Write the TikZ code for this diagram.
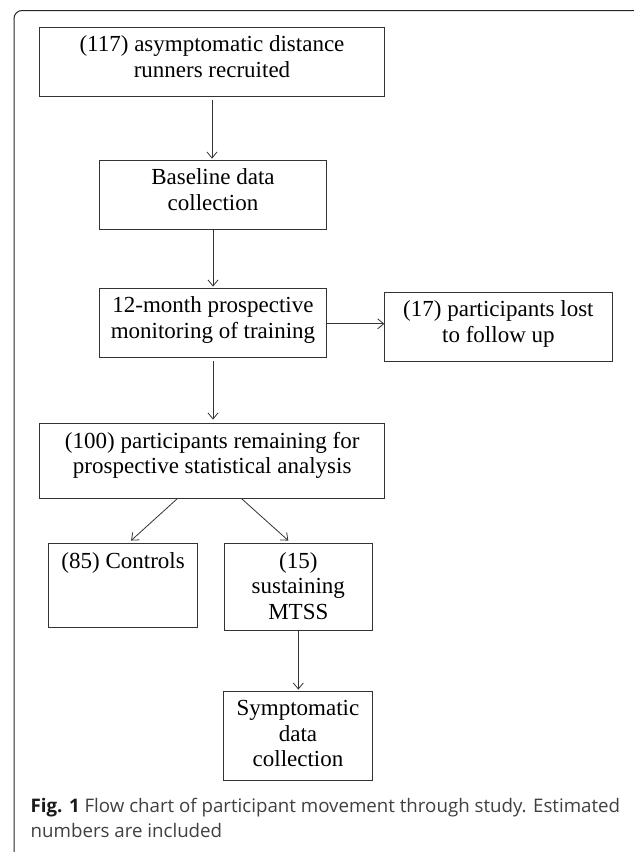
\documentclass[tikz,border=0pt]{standalone}
\usepackage{fontspec}
\setmainfont{Liberation Serif}
\newfontfamily\capfont{Open Sans}
\usetikzlibrary{arrows.meta,positioning}
\tikzstyle{flowbox}=[draw=black!80,line width=0.9pt,inner sep=0pt,shape=rectangle]
\tikzstyle{flowtext}=[inner sep=0pt,align=center,anchor=north,font=\fontsize{23}{25.5}\selectfont]
\tikzstyle{flowarrow}=[draw=black!80,line width=0.8pt,-{Straight Barb[length=6pt,width=10pt]}]

\begin{document}
\begin{tikzpicture}[x=1pt,y=-1pt]
	\useasboundingbox (0,0) rectangle (633,852);
	\draw[black!85,line width=1pt,rounded corners=8pt] (14,10.5) rectangle (645,864);
	\node[flowbox,minimum width=345pt,minimum height=69pt] (recruit) at (212,61.8) {};
	\node[flowbox,minimum width=227.3pt,minimum height=68.7pt] (baseline) at (213,194.7) {};
	\node[flowbox,minimum width=227.3pt,minimum height=69pt] (monitor) at (213,322.8) {};
	\node[flowbox,minimum width=227.3pt,minimum height=68.7pt] (lost) at (498.4,326.7) {};
	\node[flowbox,minimum width=345pt,minimum height=74.6pt] (remain) at (212.2,461) {};
	\node[flowbox,minimum width=148.6pt,minimum height=83.6pt] (controls) at (123.1,585.5) {};
	\node[flowbox,minimum width=148.6pt,minimum height=86.3pt] (mtss) at (298.3,586.9) {};
	\node[flowbox,minimum width=149.3pt,minimum height=88.7pt] (sympt) at (298,735.7) {};

	\node[flowtext] (recruittxt) at ([yshift=-8.8pt]recruit.north) {(117) asymptomatic distance\\runners recruited};
	\node[flowtext] (baselinetxt) at ([yshift=-8.8pt]baseline.north) {Baseline data\\collection};
	\node[flowtext] (monitortxt) at ([yshift=-8.8pt]monitor.north) {12-month prospective\\monitoring of training};
	\node[flowtext] (losttxt) at ([yshift=-8.8pt]lost.north) {(17) participants lost\\to follow up};
	\node[flowtext] (remaintxt) at ([yshift=-8.8pt]remain.north) {(100) participants remaining for\\prospective statistical analysis};
	\node[flowtext] (controlstxt) at ([yshift=-8.8pt]controls.north) {(85) Controls};
	\node[flowtext] (mtsstxt) at ([yshift=-8.8pt]mtss.north) {(15)\\sustaining\\MTSS};
	\node[flowtext] (sympttxt) at ([yshift=-9.4pt]sympt.north) {Symptomatic\\data\\collection};

	\draw[flowarrow,shorten <=3.7pt,shorten >=1.3pt] (recruit.south) -- (recruit.south |- baseline.north);
	\draw[flowarrow,shorten >=1.3pt] (baseline.south) -- (baseline.south |- monitor.north);
	\draw[flowarrow] ([yshift=-1pt]monitor.east) -- ([yshift=-1pt]monitor.east -| lost.west);
	\draw[flowarrow,shorten <=3.4pt,shorten >=3.7pt] (monitor.south) -- (monitor.south |- remain.north);
	\draw[flowarrow] ([xshift=-35pt]remain.south) -- ([xshift=8pt,yshift=2.7pt]controls.north);
	\draw[flowarrow] ([xshift=29.5pt]remain.south) -- ([xshift=-10pt,yshift=2.7pt]mtss.north);
	\draw[flowarrow,shorten >=1.3pt] (mtss.south) -- (mtss.south |- sympt.north);

	\node[anchor=base west,inner sep=0pt,align=left,text=black!75,font=\capfont\fontsize{18.7}{25}\selectfont] (caption) at (30.5,837.7)
		{{\bfseries\color{black!90}Fig. 1} Flow chart of participant movement through study. Estimated\\numbers are included};
\end{tikzpicture}
\end{document}
